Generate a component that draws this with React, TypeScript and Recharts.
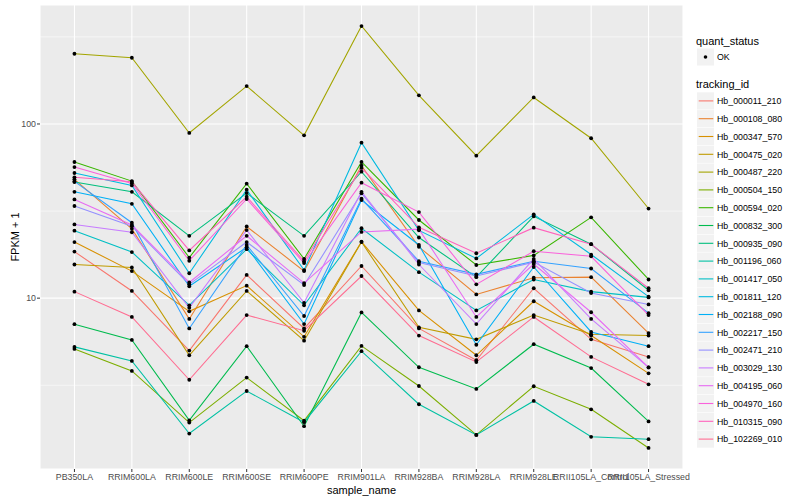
import React from 'react';
import { LineChart, Line, XAxis, YAxis, CartesianGrid } from 'recharts';

const sampleNames = [
  'PB350LA', 'RRIM600LA', 'RRIM600LE', 'RRIM600SE', 'RRIM600PE', 'RRIM901LA',
  'RRIM928BA', 'RRIM928LA', 'RRIM928LE', 'RRII105LA_Control', 'RRII105LA_Stressed',
];

const trackingIds = [
  'Hb_000011_210', 'Hb_000108_080', 'Hb_000347_570', 'Hb_000475_020', 'Hb_000487_220',
  'Hb_000504_150', 'Hb_000594_020', 'Hb_000832_300', 'Hb_000935_090', 'Hb_001196_060',
  'Hb_001417_050', 'Hb_001811_120', 'Hb_002188_090', 'Hb_002217_150', 'Hb_002471_210',
  'Hb_003029_130', 'Hb_004195_060', 'Hb_004970_160', 'Hb_010315_090', 'Hb_102269_010',
];

// FPKM + 1, one array per tracking_id, in sample order
const hb_000011_210 = [18.5, 11.0, 5.0, 13.6, 6.7, 15.3, 6.7, 4.4, 11.4, 5.8, 4.6];
const hb_000108_080 = [48.1, 25.0, 7.6, 25.8, 14.3, 57.6, 19.7, 10.5, 13.1, 13.2, 6.3];
const hb_000347_570 = [21.0, 14.3, 8.4, 11.8, 6.0, 21.1, 8.5, 4.7, 9.6, 6.1, 3.7];
const hb_000475_020 = [15.6, 15.0, 4.7, 11.0, 5.7, 21.0, 6.8, 5.8, 8.0, 6.2, 6.1];
const hb_000487_220 = [253, 240, 88.8, 165, 86.1, 365, 146, 65.8, 142, 82.8, 32.7];
const hb_000504_150 = [5.11, 3.82, 1.93, 3.5, 1.98, 5.32, 3.13, 1.64, 3.12, 2.3, 1.38];
const hb_000594_020 = [60.5, 47.0, 17.1, 45.4, 16.8, 60.5, 28.1, 15.5, 17.6, 29.1, 12.8];
const hb_000832_300 = [7.09, 5.76, 1.99, 5.3, 1.84, 8.28, 4.01, 3.01, 5.44, 3.97, 1.96];
const hb_000935_090 = [46.4, 40.8, 22.8, 40.1, 22.8, 53.2, 22.3, 13.2, 29.5, 20.4, 11.1];
const hb_001196_060 = [5.25, 4.36, 1.67, 2.93, 1.94, 4.96, 2.46, 1.64, 2.57, 1.6, 1.55];
const hb_001417_050 = [24.4, 18.4, 9.1, 19.1, 9.1, 25.2, 14.1, 8.5, 12.8, 10.9, 10.1];
const hb_001811_120 = [52.3, 44.4, 13.9, 41.9, 14.5, 78.1, 24.5, 16.9, 30.3, 17.8, 10.2];
const hb_002188_090 = [40.8, 34.8, 11.7, 19.6, 7.1, 36.6, 20.2, 5.4, 15.1, 6.4, 5.3];
const hb_002217_150 = [46.8, 27.1, 6.7, 20.2, 7.9, 37.2, 16.3, 13.7, 16.3, 14.8, 8.2];
const hb_002471_210 = [33.8, 25.9, 12.0, 21.0, 11.9, 40.0, 16.0, 13.4, 16.1, 10.7, 9.2];
const hb_003029_130 = [26.5, 23.9, 8.8, 24.6, 9.4, 40.8, 15.6, 7.1, 16.8, 7.6, 4.0];
const hb_004195_060 = [36.9, 26.3, 12.3, 22.8, 12.2, 24.0, 24.9, 7.8, 15.7, 8.3, 4.0];
const hb_004970_160 = [56.6, 45.6, 16.4, 37.1, 15.9, 46.0, 31.2, 12.0, 18.6, 17.4, 8.0];
const hb_010315_090 = [49.4, 46.6, 18.8, 38.2, 16.3, 55.9, 25.5, 18.1, 25.4, 20.4, 11.4];
const hb_102269_010 = [10.9, 7.8, 3.4, 8.0, 6.5, 13.4, 6.1, 4.3, 7.8, 4.6, 3.2];

const seriesValues = [
  hb_000011_210, hb_000108_080, hb_000347_570, hb_000475_020, hb_000487_220,
  hb_000504_150, hb_000594_020, hb_000832_300, hb_000935_090, hb_001196_060,
  hb_001417_050, hb_001811_120, hb_002188_090, hb_002217_150, hb_002471_210,
  hb_003029_130, hb_004195_060, hb_004970_160, hb_010315_090, hb_102269_010,
];

const yTicks = [10, 100];
const yMinorTicks = [3.162, 31.62, 316.2];

// ggplot hue palette, 20 levels
const colours = [
  '#F8766D', '#EA8331', '#D89000', '#C09B00', '#A3A500', '#7CAE00', '#39B600',
  '#00BB4E', '#00BF7D', '#00C1A3', '#00BFC4', '#00BAE0', '#00B0F6', '#35A2FF',
  '#9590FF', '#C77CFF', '#E76BF3', '#FA62DB', '#FF62BC', '#FF6C91',
];

const font = '"Liberation Sans", Arial, Helvetica, sans-serif';

const rows = sampleNames.map((name, i) => {
  const row: Record<string, number | string> = { idx: i, name };
  seriesValues.forEach((vals, s) => {
    row[`s${s}`] = vals[i];
  });
  return row;
});

const Legend = () => {
  const top = 92.3;
  const step = 17.8;
  return (
    <svg
      width={800}
      height={500}
      style={{ position: 'absolute', left: 0, top: 0, pointerEvents: 'none' }}
    >
      <text x={696} y={45} fontSize={11} fontFamily={font} fill="#000">quant_status</text>
      <rect x={697} y={48.5} width={17} height={17} fill="#F2F2F2" />
      <circle cx={705.5} cy={57} r={1.8} fill="#000" />
      <text x={717} y={60.2} fontSize={8.8} fontFamily={font} fill="#000">OK</text>
      <text x={696} y={88} fontSize={11} fontFamily={font} fill="#000">tracking_id</text>
      {trackingIds.map((id, i) => {
        const y = top + step * i;
        const cy = y + 8.6;
        return (
          <g key={id}>
            <rect x={697} y={y} width={17} height={17.2} fill="#F2F2F2" />
            <line x1={698.7} x2={713.3} y1={cy} y2={cy} stroke={colours[i]} strokeWidth={1.1} />
            <text x={717} y={cy + 3.2} fontSize={8.8} fontFamily={font} fill="#000">{id}</text>
          </g>
        );
      })}
    </svg>
  );
};

export default function App() {
  return (
    <div style={{ position: 'absolute', left: 0, top: 0, width: 800, height: 500, background: '#fff' }}>
      <LineChart
        width={800}
        height={500}
        data={rows}
        margin={{ top: 5, right: 117, bottom: 0, left: 0 }}
      >
        <CartesianGrid
          vertical={false}
          horizontalValues={yMinorTicks}
          stroke="#FFFFFF"
          strokeWidth={0.55}
          fill="#EBEBEB"
          fillOpacity={1}
        />
        <CartesianGrid stroke="#FFFFFF" strokeWidth={1.07} />
        <XAxis
          dataKey="idx"
          type="number"
          domain={[-0.6, sampleNames.length - 0.4]}
          ticks={sampleNames.map((_, i) => i)}
          tickFormatter={(i: number) => sampleNames[i]}
          interval={0}
          axisLine={false}
          tickLine={{ stroke: '#333333' }}
          tickSize={3}
          tickMargin={2}
          height={31}
          tick={{ fontSize: 8.8, fill: '#4D4D4D', fontFamily: font }}
          label={{ value: 'sample_name', position: 'insideBottom', offset: 6, fontSize: 11, fill: '#000', fontFamily: font }}
        />
        <YAxis
          scale="log"
          domain={[1.045, 482]}
          allowDataOverflow
          ticks={yTicks}
          width={40}
          axisLine={false}
          tickLine={{ stroke: '#333333' }}
          tickSize={3}
          tickMargin={1}
          tick={{ fontSize: 8.8, fill: '#4D4D4D', fontFamily: font }}
          label={{ value: 'FPKM + 1', angle: -90, position: 'insideLeft', offset: 15, fontSize: 11, fill: '#000', fontFamily: font, style: { textAnchor: 'middle' } }}
        />
        {trackingIds.map((id, i) => (
          <Line
            key={id}
            name={id}
            type="linear"
            dataKey={`s${i}`}
            stroke={colours[i]}
            strokeWidth={1.07}
            dot={{ r: 1.9, fill: '#000', stroke: 'none' }}
            activeDot={false}
            isAnimationActive={false}
          />
        ))}
      </LineChart>
      <Legend />
    </div>
  );
}
